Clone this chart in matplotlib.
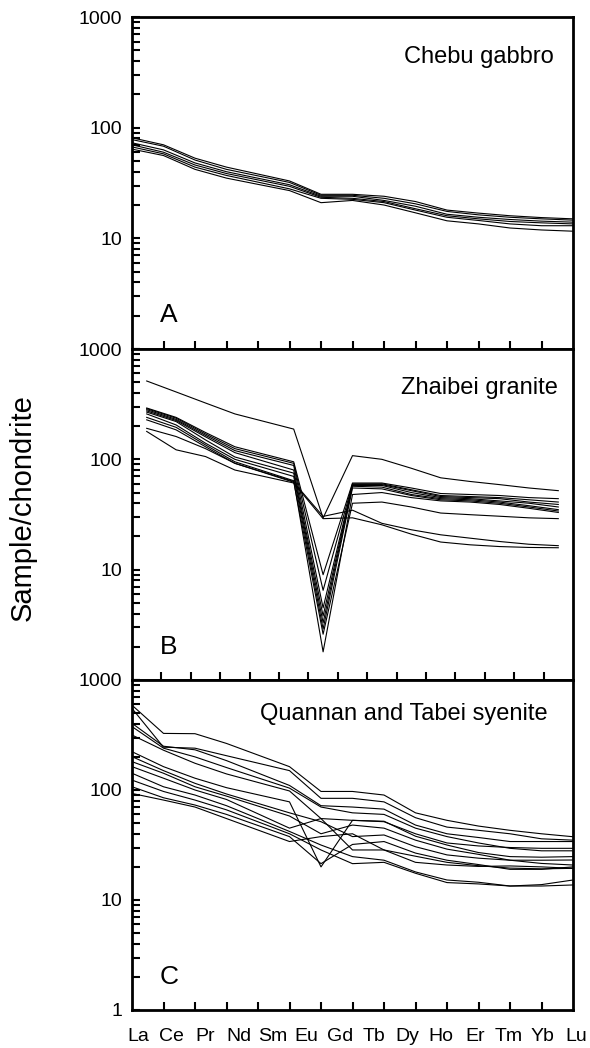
import numpy as np
import matplotlib
matplotlib.use("Agg")
import matplotlib.pyplot as plt
from matplotlib.ticker import FixedLocator, LogLocator, NullFormatter

plt.rcParams['font.family'] = ['Liberation Sans', 'DejaVu Sans']

# REE order (Pm position kept empty, lines join Nd to Sm)
elements = ['La', 'Ce', 'Pr', 'Nd', 'Sm', 'Eu', 'Gd', 'Tb', 'Dy', 'Ho', 'Er', 'Tm', 'Yb', 'Lu']
elem_pos = [0, 1, 2, 3, 5, 6, 7, 8, 9, 10, 11, 12, 13, 14]

# A - Chebu gabbro
chebu = [
    [81, 70, 53, 44, 33, 25, 25, 24, 21.5, 18, 16.9, 16, 15.4, 15],
    [78, 68, 51, 42, 32, 24.5, 24.5, 23, 20.5, 17.5, 16.3, 15.5, 15, 14.6],
    [73, 63, 48, 40, 30.5, 24, 24, 22, 19.5, 16.5, 15.5, 14.8, 14.3, 14],
    [70, 60, 46, 38.5, 29.5, 23.5, 23, 21.5, 18.5, 16, 15, 14.2, 13.8, 13.5],
    [67, 58, 44, 37, 28, 23, 22.5, 21, 18, 15.5, 14.5, 13.5, 13, 13],
    [64, 56, 42, 35, 27, 21, 22, 20, 17, 14.4, 13.5, 12.4, 11.9, 11.6],
]

# B - Zhaibei granite
zhaibei = [
    [513, 408, 324, 258, 188, 29.4, 108, 100, 83, 68, 63, 59, 55, 52],
    [292, 240, 175, 130, 95, 9.0, 61, 61, 55, 49, 48, 47, 45, 44],
    [288, 236, 170, 125, 92, 6.5, 60, 60, 53, 47, 46, 45, 43, 41],
    [282, 230, 165, 120, 88, 4.5, 59, 59, 52, 46, 45, 44, 41, 39],
    [275, 225, 160, 115, 80, 3.8, 58, 58, 50, 45, 44, 42, 40, 37],
    [268, 220, 150, 105, 75, 3.3, 57, 56, 48, 44, 43, 41, 38, 35],
    [258, 205, 140, 100, 70, 2.9, 55, 54, 47, 43, 42, 40, 37, 34],
    [240, 195, 135, 95, 64, 1.8, 48, 50, 45, 42, 41, 39, 36, 33],
    [228, 185, 130, 92, 63, 2.6, 40, 41, 37, 32.6, 31.5, 30.5, 29.5, 29],
    [191, 161, 125, 92, 62, 30.4, 34.6, 26.3, 23, 20.7, 19.3, 18, 17, 16.5],
    [179, 122, 106, 80, 61, 29, 29.5, 25.5, 21, 17.8, 16.8, 16.2, 15.9, 15.8],
]

# C - Quannan and Tabei syenite
quannan = [
    [590, 327, 325, 265, 163, 97, 97, 90, 62, 53, 47, 43, 40, 37.6],
    [552, 245, 240, 205, 150, 84, 84, 78, 56, 46, 43, 40, 36, 35],
    [404, 250, 232, 185, 110, 72, 70, 67, 48, 40, 37, 34, 34, 34],
    [377, 240, 200, 160, 104, 70, 62, 60, 45, 37.7, 33, 29.5, 28, 28],
    [316, 230, 175, 140, 98, 55, 53, 51.5, 40, 33, 31, 30, 29.5, 29.5],
    [223, 163, 128, 105, 78, 20, 53, 52, 38, 31.6, 27, 24.8, 24.5, 24.8],
    [201, 150, 115, 92, 62, 51.5, 37.7, 39, 30.5, 25.7, 24, 23, 23, 23.1],
    [181, 142, 107, 88, 58, 40, 48, 45, 35, 29, 26, 23, 21.5, 20.8],
    [163, 128, 100, 82, 45, 55, 28.5, 28.5, 22, 20.8, 20.2, 20.4, 20, 19.4],
    [142, 107, 90, 72, 42, 31.6, 24.8, 23, 18, 15.2, 14.5, 13.4, 13.8, 15.2],
    [123, 97, 81, 66, 40, 28.5, 21.4, 22, 17.5, 14.4, 14, 13.4, 13.4, 13.7],
    [107, 85, 73, 60, 37.7, 21.4, 32, 34, 26.7, 23, 21, 19, 19, 20],
    [93, 81, 70, 55, 34, 37.7, 40, 28.5, 25, 22, 20.5, 19.5, 19.2, 19.4],
]

panels = [
    (chebu, 'Chebu gabbro', 'A', (0, 14), np.arange(1, 14), (0.957, 0.861)),
    (zhaibei, 'Zhaibei granite', 'B', (-0.5, 14.5), np.arange(0.5, 14, 1.0), (0.966, 0.864)),
    (quannan, 'Quannan and Tabei syenite', 'C', (0, 14), np.arange(1, 14), (0.943, 0.879)),
]

fig = plt.figure(figsize=(5.9, 10.48), dpi=100)
left, width = 132 / 590, 441 / 590
rects = [(1 - 349 / 1048, 332 / 1048), (1 - 680 / 1048, 331 / 1048), (1 - 1010 / 1048, 330 / 1048)]

axes = []
for i, (data, title, letter, xlim, xt, tpos) in enumerate(panels):
    b, h = rects[i]
    ax = fig.add_axes([left, b, width, h])
    for row in data:
        ax.plot(elem_pos, row, color='black', lw=0.8)
    ax.set_yscale('log')
    ax.set_ylim(1, 1000)
    ax.set_xlim(*xlim)
    ax.set_xticks(xt)
    ax.set_xticklabels([])
    ax.yaxis.set_major_locator(FixedLocator([1, 10, 100, 1000]))
    if i < 2:
        ax.set_yticklabels(['', '10', '100', '1000'])
    else:
        ax.set_yticklabels(['1', '10', '100', '1000'])
    ax.yaxis.set_minor_locator(LogLocator(base=10, subs=np.arange(2, 10)))
    ax.yaxis.set_minor_formatter(NullFormatter())
    ax.tick_params(axis='y', which='both', direction='in', length=6, width=1.5,
                   labelsize=14, pad=7, right=False)
    ax.tick_params(axis='x', which='both', direction='in', length=6, width=1.5,
                   top=False)
    for sp in ax.spines.values():
        sp.set_linewidth(2)
    ax.text(tpos[0], tpos[1], title, transform=ax.transAxes, ha='right',
            va='baseline', fontsize=17)
    ax.text(0.063, 0.08, letter, transform=ax.transAxes, ha='left',
            va='baseline', fontsize=19)
    axes.append(ax)

# element labels under the bottom panel
label_x = np.linspace(0.0136, 1.007, len(elements))
for lx, el in zip(label_x, elements):
    axes[2].text(lx, -0.055, el, transform=axes[2].transAxes, ha='center',
                 va='top', fontsize=14, clip_on=False)

fig.text(0.039, 0.516, 'Sample/chondrite', rotation=90, ha='center',
         va='center', fontsize=21)

fig.savefig('out.png', dpi=100)
